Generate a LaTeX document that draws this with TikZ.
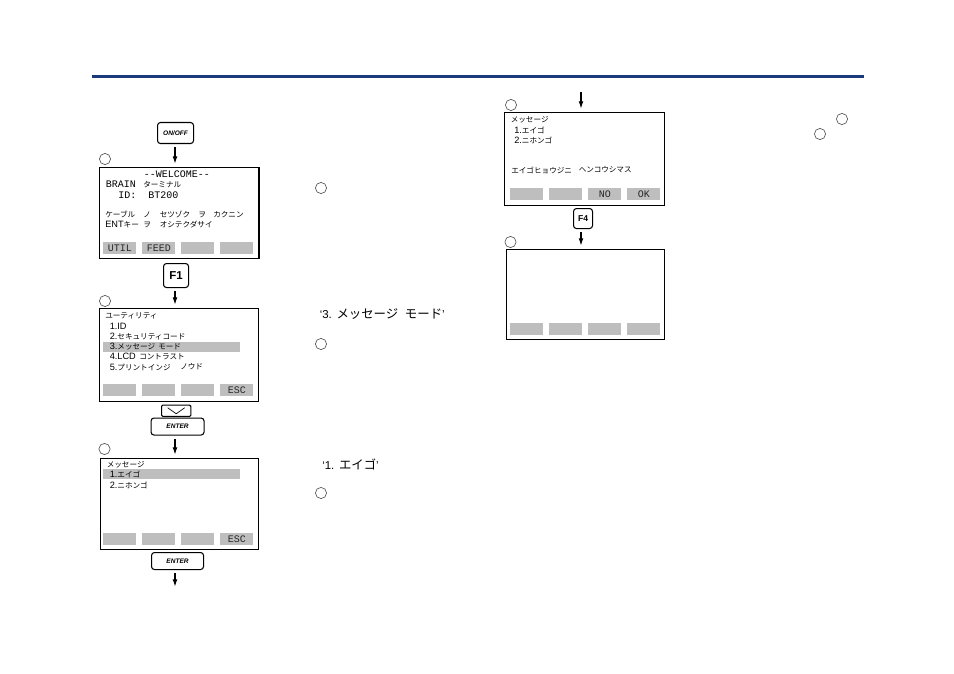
\documentclass[tikz,border=0pt]{standalone}
\usepackage{fontspec}
\setmainfont{Liberation Sans}
\newfontfamily\cjk{Noto Sans CJK JP}
\newfontfamily\lcdmono{Liberation Mono}
\newcommand{\kn}[1]{{\cjk\fontsize{5.7pt}{6pt}\selectfont #1}}
\newcommand{\latn}[1]{{\rmfamily\fontsize{6.9pt}{7pt}\selectfont #1}}
\newcommand{\qk}[1]{{\cjk\fontsize{9.3pt}{10pt}\selectfont #1}}
\usetikzlibrary{arrows.meta}
\definecolor{rulenavy}{HTML}{1B3A7C}
\definecolor{keygray}{HTML}{BEBEBE}
\tikzset{
  x=0.75pt,y=-0.75pt,
  screen/.style={draw=black,line width=1pt,fill=white,anchor=north west,inner sep=0pt},
  softkey/.style={fill=keygray,anchor=north west,inner sep=0pt,minimum width=24.75pt,minimum height=9pt,
     font=\lcdmono\fontsize{7.5pt}{8pt}\selectfont,text=black!85},
  hilite/.style={fill=keygray,anchor=north west,inner sep=0pt,minimum width=102.75pt,minimum height=7pt},
  lcdtext/.style={anchor=west,inner sep=0pt,font=\lcdmono\fontsize{7.5pt}{8pt}\selectfont,text=black},
  hwkey/.style={draw=black,line width=0.8pt,rounded corners=2.2pt,fill=white,anchor=north west,inner sep=0pt},
  stepmark/.style={draw=black!65,line width=0.5pt,circle,minimum size=8.4pt,inner sep=0pt},
  flow/.style={line width=0.8pt,-{Latex[length=5.5pt,width=3.6pt]},shorten <=2.5pt,shorten >=2.5pt},
  quoted/.style={anchor=west,inner sep=0pt,font=\fontsize{8.6pt}{9pt}\selectfont},
}
\begin{document}
\begin{tikzpicture}
\useasboundingbox (0,0) rectangle (954,674);
\fill[white] (0,0) rectangle (954,674);
\node[fill=rulenavy,anchor=north west,inner sep=0pt,minimum width=578.5pt,minimum height=2.4pt] (toprule) at (92,74.6) {};

% ---- hardware keys
\node[hwkey,minimum width=27pt,minimum height=15.75pt,font=\bfseries\itshape\fontsize{4.9pt}{5pt}\selectfont] (onoff) at (157,122) {ON/OFF};
\node[hwkey,minimum width=18.75pt,minimum height=18pt,font=\bfseries\fontsize{8.6pt}{9pt}\selectfont] (fone) at (163,263) {F1};
\node[hwkey,minimum width=22pt,minimum height=8.6pt,rounded corners=1pt] (downkey) at (161,404.5) {};
\draw[line width=0.5pt] ([shift={(-8.5,-3)}]downkey.center) -- ([shift={(0,3)}]downkey.center) -- ([shift={(8.5,-3)}]downkey.center);
\node[hwkey,minimum width=39.75pt,minimum height=12.75pt,font=\bfseries\itshape\fontsize{4.9pt}{5pt}\selectfont] (enterone) at (150.5,417.5) {ENTER};
\node[hwkey,minimum width=39pt,minimum height=12.75pt,font=\bfseries\itshape\fontsize{4.9pt}{5pt}\selectfont] (entertwo) at (151,552) {ENTER};
\node[hwkey,minimum width=14.25pt,minimum height=15pt,font=\bfseries\fontsize{6.4pt}{7pt}\selectfont] (ffour) at (573,208) {F4};

% ---- screen 1
\node[screen,minimum width=119.5pt,minimum height=68.25pt] (sone) at (99,167) {};
\node[softkey] (soneA) at (103,242) {UTIL};
\node[softkey] (soneB) at (142,242) {FEED};
\node[softkey] (soneC) at (181,242) {};
\node[softkey] (soneD) at (220,242) {};
\node[lcdtext,anchor=center] (soneT1) at (177,174.5) {--WELCOME--};
\node[lcdtext] (soneT2) at (105.5,184.5) {BRAIN};
\node[lcdtext] (soneT2b) at (143,184.5) {\kn{ターミナル}};
\node[lcdtext] (soneT3) at (118,195) {ID:};
\node[lcdtext] (soneT3b) at (148,195) {BT200};
\node[lcdtext] (soneT4) at (105,214.5) {\kn{ケーブル}};
\node[lcdtext] (soneT4b) at (143,214.5) {\kn{ノ}};
\node[lcdtext] (soneT4c) at (159.5,214.5) {\kn{セツゾク}};
\node[lcdtext] (soneT4d) at (198,214.5) {\kn{ヲ}};
\node[lcdtext] (soneT4e) at (213,214.5) {\kn{カクニン}};
\node[lcdtext] (soneT5) at (105,225) {\latn{ENT}\kn{キー}};
\node[lcdtext] (soneT5b) at (143,225) {\kn{ヲ}};
\node[lcdtext] (soneT5c) at (159.5,225) {\kn{オシテクダサイ}};

% ---- screen 2
\node[screen,minimum width=119.25pt,minimum height=69.5pt] (stwo) at (99,308) {};
\node[hilite] (stwoH) at (103,342) {};
\node[softkey] (stwoA) at (103,384) {};
\node[softkey] (stwoB) at (142,384) {};
\node[softkey] (stwoC) at (181,384) {};
\node[softkey] (stwoD) at (220,384) {ESC};
\node[lcdtext] (stwoT1) at (105,316) {\kn{ユーティリティ}};
\node[lcdtext] (stwoT2) at (109.5,326.5) {\latn{1.ID}};
\node[lcdtext] (stwoT3) at (109.5,337) {\latn{2.}\kn{セキュリティコード}};
\node[lcdtext] (stwoT4) at (109.5,346.5) {\latn{3.}\kn{メッセージ}};
\node[lcdtext] (stwoT4b) at (158,346.5) {\kn{モード}};
\node[lcdtext] (stwoT5) at (109.5,356.5) {\latn{4.LCD}};
\node[lcdtext] (stwoT5b) at (139,356.5) {\kn{コントラスト}};
\node[lcdtext] (stwoT6) at (109.5,367) {\latn{5.}\kn{プリントインジ}};
\node[lcdtext] (stwoT6b) at (180,367) {\kn{ノウド}};

% ---- screen 3
\node[screen,minimum width=118.5pt,minimum height=68.25pt] (sthree) at (100,458) {};
\node[hilite] (sthreeH) at (103,469) {};
\node[softkey] (sthreeA) at (103,533) {};
\node[softkey] (sthreeB) at (142,533) {};
\node[softkey] (sthreeC) at (181,533) {};
\node[softkey] (sthreeD) at (220,533) {ESC};
\node[lcdtext] (sthreeT1) at (106.5,464.5) {\kn{メッセージ}};
\node[lcdtext] (sthreeT2) at (109.5,474) {\latn{1.}\kn{エイゴ}};
\node[lcdtext] (sthreeT3) at (109.5,485) {\latn{2.}\kn{ニホンゴ}};

% ---- screen 4
\node[screen,minimum width=120pt,minimum height=69.5pt] (sfour) at (503.5,112) {};
\node[softkey] (sfourA) at (510,188) {};
\node[softkey] (sfourB) at (549,188) {};
\node[softkey] (sfourC) at (588,188) {NO};
\node[softkey] (sfourD) at (627,188) {OK};
\node[lcdtext] (sfourT1) at (510.5,119.5) {\kn{メッセージ}};
\node[lcdtext] (sfourT2) at (514,130) {\latn{1.}\kn{エイゴ}};
\node[lcdtext] (sfourT3) at (514,140.5) {\latn{2.}\kn{ニホンゴ}};
\node[lcdtext] (sfourT4) at (511,170) {\kn{エイゴヒョウジニ}};
\node[lcdtext] (sfourT4b) at (578.5,170) {\kn{ヘンコウシマス}};

% ---- screen 5
\node[screen,minimum width=118.5pt,minimum height=67.5pt] (sfive) at (505.5,249) {};
\node[softkey] (sfiveA) at (510,323) {};
\node[softkey] (sfiveB) at (549,323) {};
\node[softkey] (sfiveC) at (588,323) {};
\node[softkey] (sfiveD) at (627,323) {};

% ---- step circles
\node[stepmark] (m1) at (105,159) {};
\node[stepmark] (m2) at (105,301) {};
\node[stepmark] (m3) at (104.5,449) {};
\node[stepmark] (m4) at (511,105) {};
\node[stepmark] (m5) at (510.5,242) {};
\node[stepmark] (n1) at (321,188) {};
\node[stepmark] (n2) at (321,344) {};
\node[stepmark] (n3) at (321,493) {};
\node[stepmark] (n4) at (842,119) {};
\node[stepmark] (n5) at (820,134) {};

% ---- quoted menu names
\node[quoted] (q1) at (319.5,314) {‘3.\hspace{3.5pt}\qk{メッセージ}\hspace{5pt}\qk{モード}’};
\node[quoted] (q2) at (322,464) {‘1.\hspace{3.5pt}\qk{エイゴ}’};

% ---- connectors
\coordinate (cl) at (175,0);
\coordinate (cr) at (581,0);
\coordinate (topin) at (581,92);
\coordinate (bottomout) at (175,590);
\draw[flow] (cl |- onoff.south) -- (cl |- sone.north);
\draw[flow] (cl |- fone.south) -- (cl |- stwo.north);
\draw[flow] (cl |- enterone.south) -- (cl |- sthree.north);
\draw[flow] (cl |- entertwo.south) -- (bottomout);
\draw[flow,shorten <=0pt] (topin) -- (cr |- sfour.north);
\draw[flow] (cr |- ffour.south) -- (cr |- sfive.north);
\end{tikzpicture}
\end{document}
